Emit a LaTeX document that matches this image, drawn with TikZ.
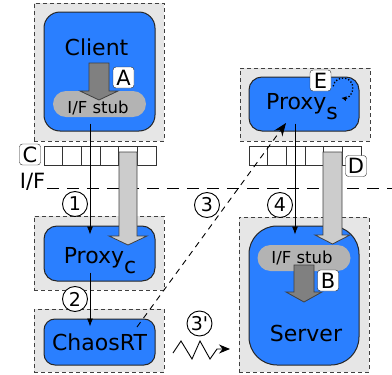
\documentclass[tikz,border=0pt]{standalone}
\usepackage{fontspec}
\setmainfont{DejaVu Sans}
\newfontfamily\stepfont{DejaVu Sans}
\usepackage{tikz}
\usetikzlibrary{arrows.meta}

\definecolor{boxblue}{HTML}{2A7FFF}
\definecolor{hostgray}{HTML}{E6E6E6}
\definecolor{stubgray}{HTML}{B3B3B3}
\definecolor{callgray}{HTML}{808080}
\definecolor{ifgray}{HTML}{CCCCCC}

\begin{document}
\begin{tikzpicture}[x=1pt,y=-1pt,
  host/.style={draw=black!75,dash pattern=on 4pt off 3pt,fill=hostgray,line width=0.9pt,inner sep=0pt,minimum width=130pt},
  comp/.style={draw=black!85,fill=boxblue,line width=1pt,inner sep=0pt,minimum width=111pt},
  stub/.style={fill=stubgray,rounded corners=13pt,inner sep=0pt,minimum width=93pt,minimum height=26pt},
  tag/.style={draw=black!85,fill=white,rounded corners=3pt,minimum size=21pt,inner sep=0pt,font=\fontsize{21}{21}\selectfont},
  num/.style={draw,circle,fill=white,minimum size=25pt,inner sep=0pt,line width=0.9pt,font=\stepfont\fontsize{19}{19}\selectfont},
  big/.style={anchor=base,inner sep=0pt,font=\fontsize{22}{26}\selectfont},
  small/.style={anchor=base,inner sep=0pt,font=\fontsize{16.5}{18}\selectfont},
  cell/.style={draw=black!80,fill=white,line width=0.8pt},
  flow/.style={-{Latex[length=8pt,width=6pt]},line width=0.8pt},
  ifarrow/.style={draw=black!75,fill=ifgray,line width=0.8pt},
  callarrow/.style={draw=black!75,fill=callgray,line width=0.8pt}]
  \useasboundingbox (0,0) rectangle (392,375);

  % hosts
  \node[host,minimum height=138pt] (clienthost) at (99,72) {};
  \node[host,minimum height=74pt] (proxychost) at (99,253) {};
  \node[host,minimum height=63pt] (chaoshost) at (99,340.5) {};
  \node[host,minimum height=73pt] (proxyshost) at (305,104.5) {};
  \node[host,minimum height=155pt] (serverhost) at (304,294.5) {};

  % components
  \node[comp,minimum height=119pt,rounded corners=16pt] (client) at (99.5,71.5) {};
  \node[comp,minimum height=55pt,rounded corners=13pt] (proxyc) at (99.5,253.5) {};
  \node[comp,minimum height=46pt,rounded corners=11pt] (chaos) at (99.5,342) {};
  \node[comp,minimum height=54pt,rounded corners=13pt,minimum width=110pt] (proxys) at (304,104) {};
  \node[comp,minimum height=139pt,rounded corners=28pt,minimum width=110pt] (server) at (304,295.5) {};

  \node[big] (clienttxt) at (96.5,55) {Client};
  \node[big] (proxyctxt) at (100,263) {Proxy\raisebox{-10pt}{c}};
  \node[big] (chaostxt) at (99.5,350) {ChaosRT};
  \node[big] (proxystxt) at (302,109) {Proxy\raisebox{-10pt}{s}};
  \node[big] (servertxt) at (306,341) {Server};

  % stubs with call arrows
  \node[stub] (cstub) at (99.5,104) {};
  \node[small] at (98,113) {I/F stub};
  \draw[callarrow] (89,63) -- (109,63) -- (109,91) -- (118,91) -- (99,100)
    -- (80,91) -- (89,91) -- cycle;
  \node[tag] (taga) at (123.5,77.5) {A};

  \node[stub] (sstub) at (304,258) {};
  \node[small] at (302,263) {I/F stub};
  \draw[callarrow] (294,265) -- (314,265) -- (314,292) -- (322,292) -- (304,302)
    -- (286,292) -- (294,292) -- cycle;
  \node[tag] (tagb) at (328,280.5) {B};

  % interface tables
  \foreach \i in {0,...,5} {
    \draw[cell] (44+\i*18.67,146) rectangle ++(18.67,19);
    \draw[cell] (249+\i*18.67,146) rectangle ++(18.67,19);
  }

  % interface border
  \draw[line width=0.9pt,dash pattern=on 12pt off 8pt] (47,188) -- (392,188);
  \node[anchor=base,inner sep=0pt,font=\fontsize{21}{24}\selectfont] (iflabel) at (32.5,188) {I/F};

  % interface hand-over
  \draw[ifarrow] (119,152) -- (137,152) -- (137,236) -- (147,236) -- (128,245)
    -- (109,236) -- (119,236) -- cycle;
  \draw[ifarrow] (323,152) -- (342,152) -- (342,235) -- (350,235) -- (332.5,244)
    -- (315,235) -- (323,235) -- cycle;

  % call path
  \draw[flow] ([xshift=-9.5pt,yshift=8pt]client.south) -- ([xshift=-9.5pt,yshift=-9pt]proxyc.north);
  \draw[flow] ([xshift=-9.5pt,yshift=9pt]proxyc.south) -- ([xshift=-9.5pt,yshift=-8pt]chaos.north);
  \draw[flow] ([xshift=-9pt,yshift=8pt]proxys.south) -- ([xshift=-9pt,yshift=-9pt]server.north);
  \draw[-{Stealth[length=13pt,width=10pt]},line width=0.9pt,dash pattern=on 6pt off 5pt]
    ([xshift=37.5pt,yshift=15pt]chaos.center) -- ([xshift=-18pt,yshift=-19pt]proxys.center);
  \draw[-{Stealth[length=11pt,width=9pt]},line width=0.9pt]
    (173,353) -- (181,341) -- (192,359) -- (200,341) -- (210,359) -- (217,349) -- (230,349);

  % step numbers
  \node[num] (n1) at (75,204) {1};
  \node[num] (n2) at (75,299) {2};
  \node[num] (n3) at (207,205) {3};
  \node[num] (n4) at (280,205) {4};
  \node[num] (n3b) at (199.5,323.5) {3'};

  % tags
  \node[tag] (tagc) at (30,154.5) {C};
  \node[tag] (tagd) at (356,166) {D};
  \node[tag] (tage) at (320.5,80.5) {E};
  \draw[line width=1.3pt,dash pattern=on 1.3pt off 1.9pt,-{Latex[length=5pt,width=5pt]}]
    (343,88) ++(-170:10) arc[start angle=-170,end angle=100,radius=10];
\end{tikzpicture}
\end{document}
